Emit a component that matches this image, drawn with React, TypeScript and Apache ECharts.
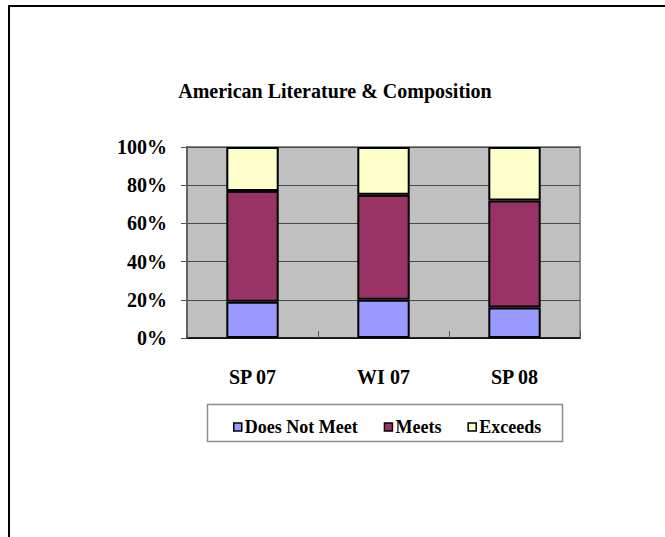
import React, { useEffect, useRef } from "react";
import * as echarts from "echarts";

const categories = ["SP 07", "WI 07", "SP 08"];
const doesNotMeet = [19, 20, 16];
const meets = [58, 55, 56];
const exceeds = [23, 25, 28];
const seriesNames = ["Does Not Meet", "Meets", "Exceeds"];
const seriesColors = ["#9999FF", "#993366", "#FFFFCC"];
const titleText = "American Literature & Composition";

const FONT = "Times New Roman";

export default function App() {
  const ref = useRef<HTMLDivElement>(null);
  useEffect(() => {
    if (!ref.current) return;
    const chart = echarts.init(ref.current, undefined, { renderer: "svg" });
    const data = [doesNotMeet, meets, exceeds];
    chart.setOption({
      animation: false,
      backgroundColor: "#ffffff",
      title: {
        text: titleText,
        left: 330,
        textAlign: "center",
        top: 76,
        textStyle: { fontFamily: FONT, fontWeight: "bold", fontSize: 20, color: "#000" },
      },
      grid: {
        left: 187,
        right: 85,
        top: 147,
        bottom: 199,
        show: true,
        backgroundColor: "#C0C0C0",
        borderColor: "#8c8c8c",
        borderWidth: 2,
      },
      legend: {
        data: seriesNames,
        left: 228,
        top: 413,
        itemWidth: 8,
        itemHeight: 8,
        itemGap: 26,
        icon: "rect",
        itemStyle: { borderColor: "#000", borderWidth: 1.5 },
        textStyle: { fontFamily: FONT, fontWeight: "bold", fontSize: 18, color: "#000", padding: [0, 0, 0, -2] },
      },
      xAxis: {
        type: "category",
        data: categories,
        axisLine: { show: true, lineStyle: { color: "#000", width: 1.5 } },
        axisTick: { show: true, inside: true, length: 7, lineStyle: { color: "#555" } },
        axisLabel: { margin: 29, fontFamily: FONT, fontWeight: "bold", fontSize: 20, color: "#000" },
        splitLine: { show: false },
      },
      yAxis: {
        type: "value",
        min: 0,
        max: 100,
        interval: 20,
        axisLine: { show: true, lineStyle: { color: "#555", width: 1.5 } },
        axisTick: { show: true, length: 6, lineStyle: { color: "#555" } },
        axisLabel: {
          margin: 20,
          formatter: "{value}%",
          fontFamily: FONT,
          fontWeight: "bold",
          fontSize: 20,
          color: "#000",
        },
        splitLine: { show: true, lineStyle: { color: "#4a4a4a", width: 1 } },
      },
      series: seriesNames.map((name, i) => ({
        name,
        type: "bar",
        stack: "total",
        barWidth: "40%",
        data: data[i],
        itemStyle: { color: seriesColors[i], borderColor: "#000", borderWidth: 2 },
      })),
      graphic: [
        {
          type: "rect",
          shape: { x: 207.5, y: 404.5, width: 355, height: 37 },
          style: { fill: "none", stroke: "#8c8c8c", lineWidth: 1.5 },
          z: -1,
        },
        {
          type: "polyline",
          shape: { points: [[9, 537], [9, 6], [665, 6]] },
          style: { fill: "none", stroke: "#000", lineWidth: 2 },
        },
      ],
    });
    return () => chart.dispose();
  }, []);
  return (
    <div
      ref={ref}
      style={{ position: "absolute", left: 0, top: 0, width: 665, height: 537 }}
    />
  );
}
